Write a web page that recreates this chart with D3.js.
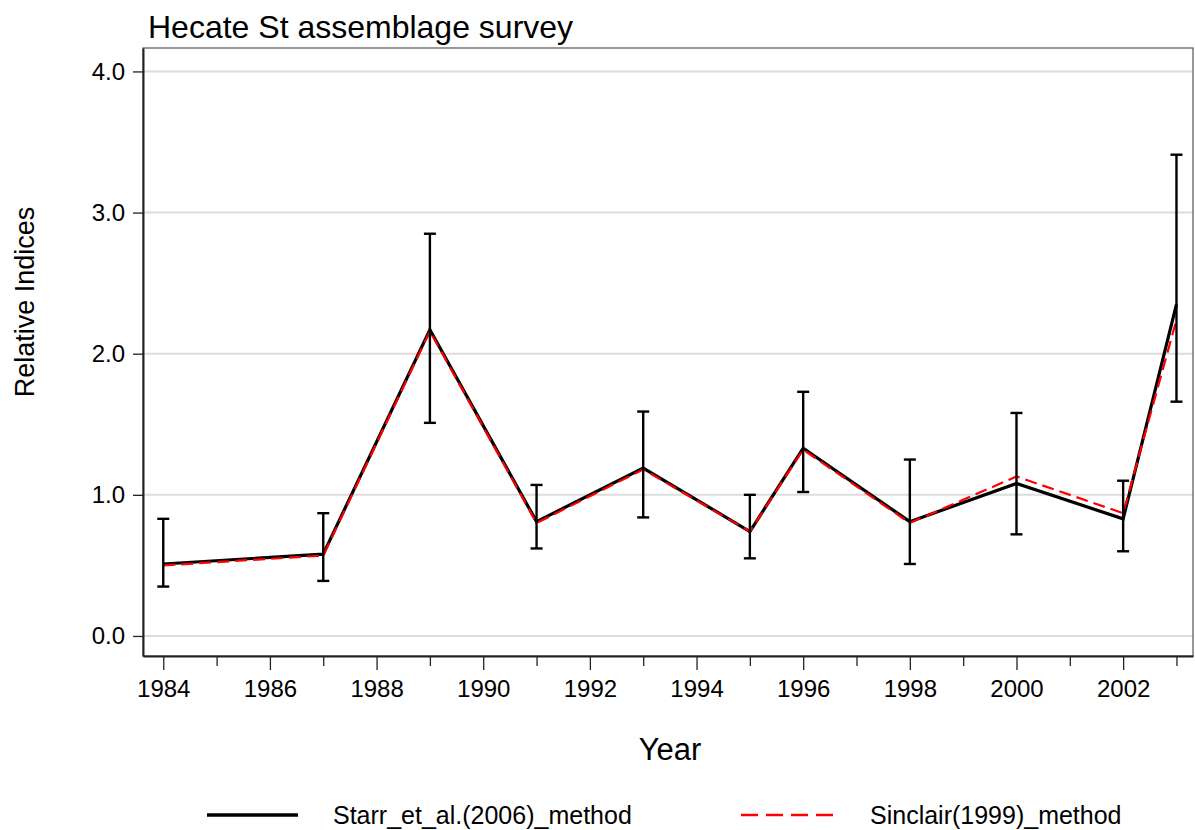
<!DOCTYPE html>
<html>
<head>
<meta charset="utf-8">
<script src="https://cdn.jsdelivr.net/npm/d3@7"></script>
<style>
html,body{margin:0;padding:0;background:#fff;}
text{font-family:"Liberation Sans",Arial,sans-serif;fill:#000;}
</style>
</head>
<body>
<svg id="chart" width="1195" height="830"></svg>
<script>
// ---- data ----
const years      = [1984, 1987, 1989, 1991, 1993, 1995, 1996, 1998, 2000, 2002, 2003];
const starr      = [0.51, 0.58, 2.17, 0.81, 1.19, 0.74, 1.33, 0.81, 1.08, 0.83, 2.35];
const sinclair   = [0.50, 0.57, 2.16, 0.80, 1.18, 0.74, 1.32, 0.80, 1.13, 0.87, 2.24];
const lowerCI    = [0.35, 0.39, 1.51, 0.62, 0.84, 0.55, 1.02, 0.51, 0.72, 0.60, 1.66];
const upperCI    = [0.83, 0.87, 2.85, 1.07, 1.59, 1.00, 1.73, 1.25, 1.58, 1.10, 3.41];
const yTicks     = [0, 1, 2, 3, 4];
const xMajor     = [1984, 1986, 1988, 1990, 1992, 1994, 1996, 1998, 2000, 2002];
const xMinor     = [1985, 1987, 1989, 1991, 1993, 1995, 1997, 1999, 2001, 2003];
const seriesNames = ["Starr_et_al.(2006)_method", "Sinclair(1999)_method"];
const titleText = "Hecate St assemblage survey";
const xTitle = "Year", yTitle = "Relative Indices";

const svg = d3.select("#chart");
const L = 143, R = 1193, T = 48, B = 656;

const x = d3.scaleLinear().domain([1983.62, 2003.31]).range([L, R]);
const y = d3.scaleLinear().domain([-0.142, 4.166]).range([B, T]);

// gridlines
svg.append("g").selectAll("line").data(yTicks).join("line")
  .attr("x1", L).attr("x2", R)
  .attr("y1", d => y(d)).attr("y2", d => y(d))
  .attr("stroke", "#dcdcdc").attr("stroke-width", 2);

// frame
svg.append("rect").attr("x", L).attr("y", T).attr("width", R - L).attr("height", B - T)
  .attr("fill", "none").attr("stroke", "#555").attr("stroke-width", 1.2);

// y axis
const yAxis = d3.axisLeft(y).tickValues(yTicks).tickFormat(d3.format(".1f"))
  .tickSize(10).tickSizeOuter(0).tickPadding(8);
const gy = svg.append("g").attr("transform", `translate(${L},0)`).call(yAxis);
gy.attr("font-size", null).attr("font-family", null);
gy.select(".domain").attr("stroke", "#222").attr("stroke-width", 2);
gy.selectAll(".tick line").attr("stroke", "#222").attr("stroke-width", 1.3);
gy.selectAll(".tick text").style("font-size", "24px").attr("fill", "#000");

// x axis major
const xAxis = d3.axisBottom(x).tickValues(xMajor).tickFormat(d3.format("d"))
  .tickSize(14).tickSizeOuter(0).tickPadding(10);
const gx = svg.append("g").attr("transform", `translate(0,${B})`).call(xAxis);
gx.attr("font-size", null).attr("font-family", null);
gx.select(".domain").attr("stroke", "#222").attr("stroke-width", 2);
gx.selectAll(".tick line").attr("stroke", "#222").attr("stroke-width", 1.3);
gx.selectAll(".tick text").style("font-size", "24px").attr("fill", "#000");
// x axis minor
const gxm = svg.append("g").attr("transform", `translate(0,${B})`)
  .call(d3.axisBottom(x).tickValues(xMinor).tickFormat("").tickSize(10).tickSizeOuter(0));
gxm.select(".domain").remove();
gxm.selectAll(".tick line").attr("stroke", "#222").attr("stroke-width", 1.3);

const rows = years.map((yr, i) => ({yr, s: starr[i], c: sinclair[i], lo: lowerCI[i], hi: upperCI[i]}));

// series lines
const lineS = d3.line().x(d => x(d.yr)).y(d => y(d.s));
const lineC = d3.line().x(d => x(d.yr)).y(d => y(d.c));
svg.append("path").datum(rows).attr("d", lineS)
  .attr("fill", "none").attr("stroke", "#000").attr("stroke-width", 3.2).attr("stroke-linejoin", "miter");
svg.append("path").datum(rows).attr("d", lineC)
  .attr("fill", "none").attr("stroke", "#ff0000").attr("stroke-width", 2.2).attr("stroke-dasharray", "12,6");

// error bars
const eb = svg.append("g").attr("stroke", "#000").attr("stroke-width", 2.4);
eb.selectAll("line.v").data(rows).join("line").attr("class", "v")
  .attr("x1", d => x(d.yr)).attr("x2", d => x(d.yr))
  .attr("y1", d => y(d.lo)).attr("y2", d => y(d.hi));
eb.selectAll("line.t").data(rows).join("line").attr("class", "t")
  .attr("x1", d => x(d.yr) - 6).attr("x2", d => x(d.yr) + 6)
  .attr("y1", d => y(d.hi)).attr("y2", d => y(d.hi));
eb.selectAll("line.b").data(rows).join("line").attr("class", "b")
  .attr("x1", d => x(d.yr) - 6).attr("x2", d => x(d.yr) + 6)
  .attr("y1", d => y(d.lo)).attr("y2", d => y(d.lo));

// titles
svg.append("text").attr("x", 148).attr("y", 38).style("font-size", "32px").text(titleText);
svg.append("text").attr("x", 670).attr("y", 760).attr("text-anchor", "middle").style("font-size", "31px").text(xTitle);
svg.append("text").attr("transform", "translate(34,302) rotate(-90)").attr("text-anchor", "middle")
  .style("font-size", "27px").text(yTitle);

// legend
const lg = svg.append("g");
lg.append("line").attr("x1", 207).attr("x2", 298).attr("y1", 815).attr("y2", 815)
  .attr("stroke", "#000").attr("stroke-width", 3.5);
lg.append("text").attr("x", 333).attr("y", 824).style("font-size", "25px").text(seriesNames[0]);
lg.append("line").attr("x1", 741).attr("x2", 835).attr("y1", 815).attr("y2", 815)
  .attr("stroke", "#ff0000").attr("stroke-width", 2.5).attr("stroke-dasharray", "17,8");
lg.append("text").attr("x", 870).attr("y", 824).style("font-size", "25px").text(seriesNames[1]);
</script>
</body>
</html>
